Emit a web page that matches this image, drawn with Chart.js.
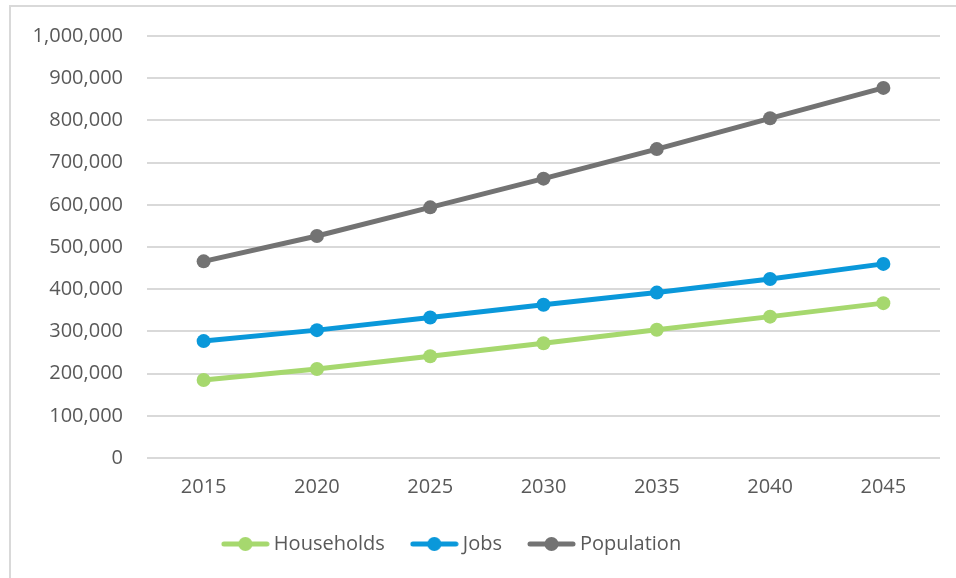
<!DOCTYPE html>
<html>
<head>
<meta charset="utf-8">
<script src="https://cdn.jsdelivr.net/npm/chart.js@4"></script>
<style>
html,body{margin:0;padding:0;background:#fff;}
#wrap{position:relative;width:956px;height:578px;overflow:hidden;}
#frame{position:absolute;left:9px;top:5px;width:1000px;height:1000px;border:2px solid #d9d9d9;box-sizing:border-box;}
canvas{position:absolute;left:0;top:0;}
</style>
</head>
<body>
<div id="wrap">
<div id="frame"></div>
<canvas id="c" width="956" height="578"></canvas>
</div>
<script>
const years = ['2015','2020','2025','2030','2035','2040','2045'];
const households = [185000, 211000, 241000, 272000, 304000, 335000, 367000];
const jobs = [277000, 303000, 333000, 363000, 392000, 424000, 460000];
const population = [466000, 526000, 594000, 662000, 732000, 805000, 877000];
const seriesNames = ['Households','Jobs','Population'];
const seriesColors = ['#A6D86E','#0A98DA','#737373'];

function legendIcon(color){
  const c = document.createElement('canvas');
  c.width = 49; c.height = 16;
  const g = c.getContext('2d');
  g.strokeStyle = color; g.lineWidth = 5; g.lineCap = 'round';
  g.beginPath(); g.moveTo(3,8); g.lineTo(46,8); g.stroke();
  g.fillStyle = color; g.beginPath(); g.arc(24.5,8,7,0,Math.PI*2); g.fill();
  return c;
}
const icons = seriesColors.map(legendIcon);
const dataSets = [households, jobs, population];

const shiftLegend = {
  id: 'shiftLegend',
  afterLayout(chart){
    const lg = chart.legend;
    if (lg) { lg.left -= 16; lg.right -= 16; }
  }
};

const fontFam = "'Open Sans', 'Noto Sans', sans-serif";
new Chart(document.getElementById('c'), {
  type: 'line',
  plugins: [shiftLegend],
  data: {
    labels: years,
    datasets: seriesNames.map((n,i)=>({
      label: n,
      data: dataSets[i],
      borderColor: seriesColors[i],
      backgroundColor: seriesColors[i],
      borderWidth: 5,
      pointRadius: 7,
      pointHoverRadius: 7,
      pointBorderWidth: 0,
      pointStyle: 'circle',
      tension: 0
    }))
  },
  options: {
    responsive: false,
    animation: false,
    devicePixelRatio: 1,
    layout: { padding: { left: 0, right: 16, top: 27, bottom: 14 } },
    plugins: {
      tooltip: { enabled: false },
      legend: {
        position: 'bottom',
        labels: {
          usePointStyle: true,
          pointStyleWidth: 37,
          padding: 31,
          color: '#595959',
          font: { family: fontFam, size: 20 },
          generateLabels(chart){
            return chart.data.datasets.map((d,i)=>({
              text: d.label, pointStyle: icons[i], fillStyle: seriesColors[i],
              strokeStyle: seriesColors[i], lineWidth: 0, hidden: false, datasetIndex: i, fontColor: '#595959'
            }));
          }
        }
      }
    },
    scales: {
      x: {
        offset: true,
        afterFit(s){ s.height = 45; },
        grid: { display: false, drawTicks: false },
        border: { display: false },
        ticks: { color: '#595959', font: { family: fontFam, size: 20 }, padding: 17 }
      },
      y: {
        min: 0, max: 1000000,
        afterFit(s){ s.width = 147; },
        grid: { color: '#d9d9d9', lineWidth: 2, drawTicks: false },
        border: { display: false },
        ticks: {
          stepSize: 100000,
          padding: 24,
          color: '#595959',
          font: { family: fontFam, size: 20 },
          callback: v => v.toLocaleString('en-US')
        }
      }
    }
  }
});
</script>
</body>
</html>
